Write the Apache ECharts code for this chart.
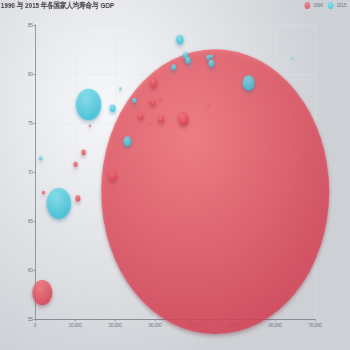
<!DOCTYPE html>
<html>
<head>
<meta charset="utf-8">
<script src="https://cdn.jsdelivr.net/npm/echarts@6/dist/echarts.min.js"></script>
<style>
  html, body { margin: 0; padding: 0; width: 350px; height: 350px; overflow: hidden; }
  /* chart is laid out wider and squeezed horizontally so bubbles read as tall ovals */
  #main { width: 438px; height: 350px; transform: scaleX(0.8); transform-origin: 0 0; }
</style>
</head>
<body>
<div id="main"></div>
<script>
// Countries, in the same order for both years
const countries = ['Australia', 'Canada', 'China', 'Cuba', 'Finland', 'France', 'Germany', 'Iceland', 'India', 'Japan',
  'North Korea', 'South Korea', 'New Zealand', 'Norway', 'Poland', 'Russia', 'Turkey', 'United Kingdom', 'United States'];

// 1990: GDP per capita, life expectancy, population
const gdp1990 = [28604, 31163, 45000, 13670, 28599, 29476, 31476, 28666, 1777, 29550,
  2076, 12087, 24021, 43296, 10088, 19349, 10670, 26424, 37062];
const life1990 = [77, 77.4, 68, 74.7, 75, 77.1, 75.4, 78.1, 57.7, 79.1,
  67.9, 72, 75.4, 76.8, 70.8, 69.6, 67.3, 75.7, 75.4];
const pop1990 = [17096869, 27662440, 113000000000, 10582082, 4986705, 56943299, 78958237, 254830, 870601776, 122249285,
  20194354, 42972254, 3397534, 4240375, 38195258, 147568552, 53994605, 57110117, 252847810];

// 2015: GDP per capita, life expectancy, population
const gdp2015 = [44056, 43294, 13334, 21291, 38923, 37599, 44053, 42182, 5903, 36162,
  1390, 34644, 34186, 64304, 24787, 23038, 19360, 38225, 53354];
const life2015 = [81.8, 81.7, 76.9, 78.5, 80.8, 81.9, 81.1, 82.8, 66.8, 83.5,
  71.4, 80.7, 80.6, 81.6, 77.3, 73.13, 76.5, 81.4, 79.1];
const pop2015 = [23968973, 35939927, 1376048943, 11389562, 5503457, 64395345, 80688545, 329425, 1311050527, 126573481,
  25155317, 50293439, 4528526, 5210967, 38611794, 143456918, 78665830, 64715810, 321773631];

const years = ['1990', '2015'];
const xTicks = { min: 0, max: 70000, interval: 10000 };
const yTicks = { min: 55, max: 85, interval: 5 };

function rows(gdp, life, pop, year) {
  return countries.map((c, i) => [gdp[i], life[i], pop[i], c, year]);
}

const chart = echarts.init(document.getElementById('main'));

const axisCommon = {
  axisLine: { show: true, lineStyle: { color: '#8a8d94', width: 1 } },
  axisTick: { show: true, length: 2, lineStyle: { color: '#8a8d94' } },
  axisLabel: { fontSize: 5.5, margin: 3, color: '#6E7079' },
  splitLine: { show: true, lineStyle: { type: 'dashed', color: '#E0E6F1', width: 0.6 } }
};

chart.setOption({
  animation: false,
  backgroundColor: new echarts.graphic.RadialGradient(0.3, 0.3, 0.8, [
    { offset: 0, color: '#f7f8fa' },
    { offset: 1, color: '#cdd0d5' }
  ]),
  title: {
    text: '1990 与 2015 年各国家人均寿命与 GDP',
    left: 1,
    top: 2,
    padding: 0,
    textStyle: { fontSize: 8, fontWeight: 'bold', color: '#3a3a3a' }
  },
  legend: {
    data: years,
    right: 5,
    top: 2,
    padding: 0,
    itemWidth: 7,
    itemHeight: 7,
    itemGap: 6,
    textStyle: { fontSize: 5.5, color: '#6E7079', padding: [0, 0, 0, -1] }
  },
  grid: { left: 44, right: 44, top: 25, bottom: 31, containLabel: false },
  xAxis: Object.assign({ type: 'value' }, xTicks, axisCommon),
  yAxis: Object.assign({ type: 'value', scale: true }, yTicks, axisCommon),
  series: [
    {
      name: years[0],
      type: 'scatter',
      data: rows(gdp1990, life1990, pop1990, 1990),
      symbolSize: d => Math.sqrt(d[2]) / 1180,
      itemStyle: {
        shadowBlur: 4,
        shadowColor: 'rgba(120, 36, 50, 0.5)',
        shadowOffsetY: 2,
        color: new echarts.graphic.RadialGradient(0.4, 0.3, 1, [
          { offset: 0, color: 'rgb(251, 118, 123)' },
          { offset: 1, color: 'rgb(204, 46, 72)' }
        ])
      }
    },
    {
      name: years[1],
      type: 'scatter',
      data: rows(gdp2015, life2015, pop2015, 2015),
      symbolSize: d => Math.sqrt(d[2]) / 1180,
      itemStyle: {
        shadowBlur: 4,
        shadowColor: 'rgba(25, 100, 150, 0.5)',
        shadowOffsetY: 2,
        color: new echarts.graphic.RadialGradient(0.4, 0.3, 1, [
          { offset: 0, color: 'rgb(129, 227, 238)' },
          { offset: 1, color: 'rgb(25, 183, 207)' }
        ])
      }
    }
  ]
});
</script>
</body>
</html>
